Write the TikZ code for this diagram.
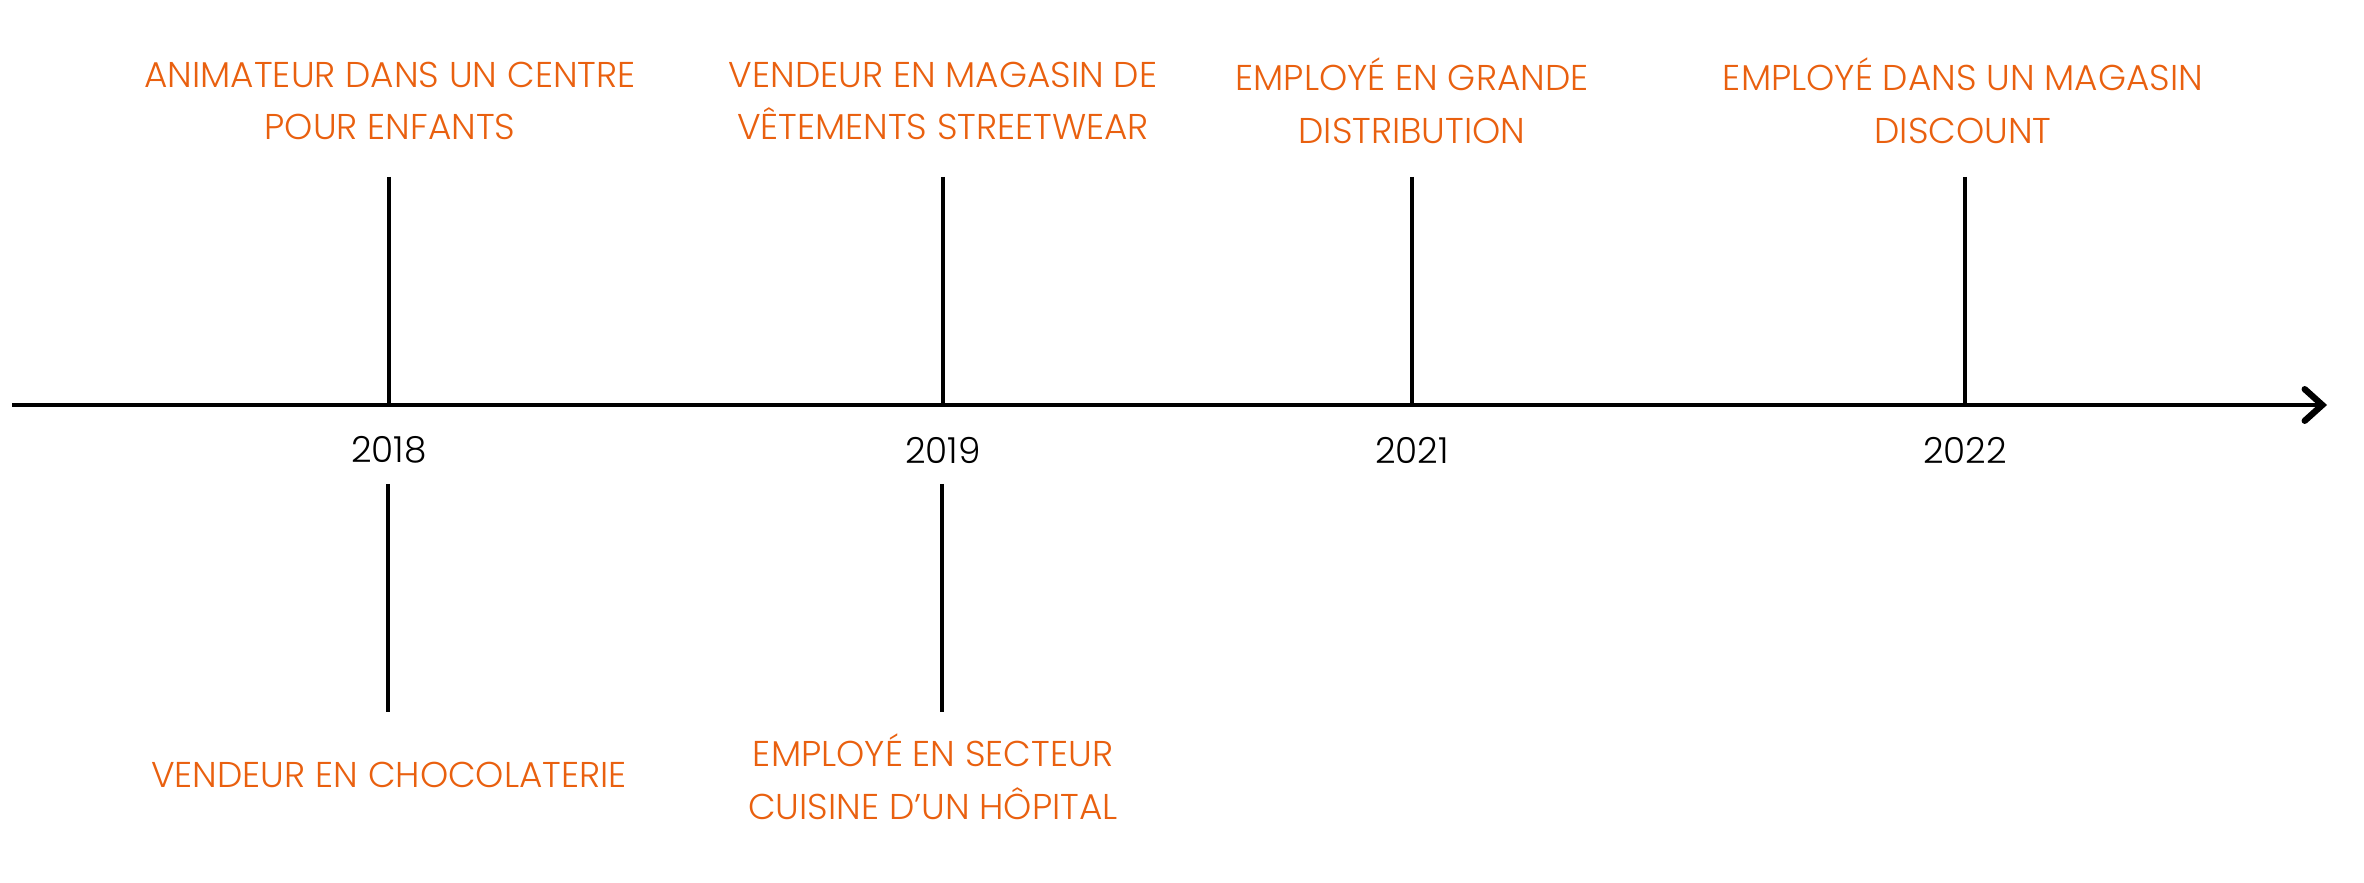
\documentclass[tikz,border=0pt]{standalone}
\usepackage{fontspec}
\setmainfont{Poppins}[UprightFont=* Light]
\usetikzlibrary{arrows.meta}
\definecolor{accent}{HTML}{E9600F}
\begin{document}
\begin{tikzpicture}[x=0.01cm,y=-0.01cm,
  job/.style={text=accent,font=\fontsize{10.2}{15}\selectfont,align=center,inner sep=0pt},
  yr/.style={text=black,font=\fontsize{10.2}{15}\selectfont,inner sep=0pt},
  tick/.style={line width=1.1pt},
  axis/.style={line width=1.1pt,-{Straight Barb[length=5pt,width=9pt,line width=1.8pt,line cap=round]}}]
\useasboundingbox (0,0) rectangle (2364,883);
\coordinate (s) at (12,405);
\coordinate (e) at (2327,405);
\draw[axis] (s) -- (e);
% top ticks
\coordinate (t1a) at (389,177); \coordinate (t1b) at (389,405);
\coordinate (t2a) at (943,177); \coordinate (t2b) at (943,405);
\coordinate (t3a) at (1412,177); \coordinate (t3b) at (1412,405);
\coordinate (t4a) at (1965,177); \coordinate (t4b) at (1965,405);
\draw[tick] (t1a) -- (t1b);
\draw[tick] (t2a) -- (t2b);
\draw[tick] (t3a) -- (t3b);
\draw[tick] (t4a) -- (t4b);
% bottom ticks
\coordinate (b1a) at (388,484); \coordinate (b1b) at (388,712);
\coordinate (b2a) at (942,484); \coordinate (b2b) at (942,712);
\draw[tick] (b1a) -- (b1b);
\draw[tick] (b2a) -- (b2b);
% years
\node[yr] (y1) at (389,450) {2018};
\node[yr] (y2) at (943,450) {2019};
\node[yr] (y3) at (1412,450) {2021};
\node[yr] (y4) at (1965,450) {2022};
% top jobs
\node[job] (j1) at (390,101) {ANIMATEUR DANS UN CENTRE\\POUR ENFANTS};
\node[job] (j2) at (943,101) {VENDEUR EN MAGASIN DE\\VÊTEMENTS STREETWEAR};
\node[job] (j3) at (1412,101) {EMPLOYÉ EN GRANDE\\DISTRIBUTION};
\node[job] (j4) at (1963,101) {EMPLOYÉ DANS UN MAGASIN\\DISCOUNT};
% bottom jobs
\node[job] (j5) at (389,775) {VENDEUR EN CHOCOLATERIE};
\node[job] (j6) at (933,777) {EMPLOYÉ EN SECTEUR\\CUISINE D’UN HÔPITAL};
\end{tikzpicture}
\end{document}
